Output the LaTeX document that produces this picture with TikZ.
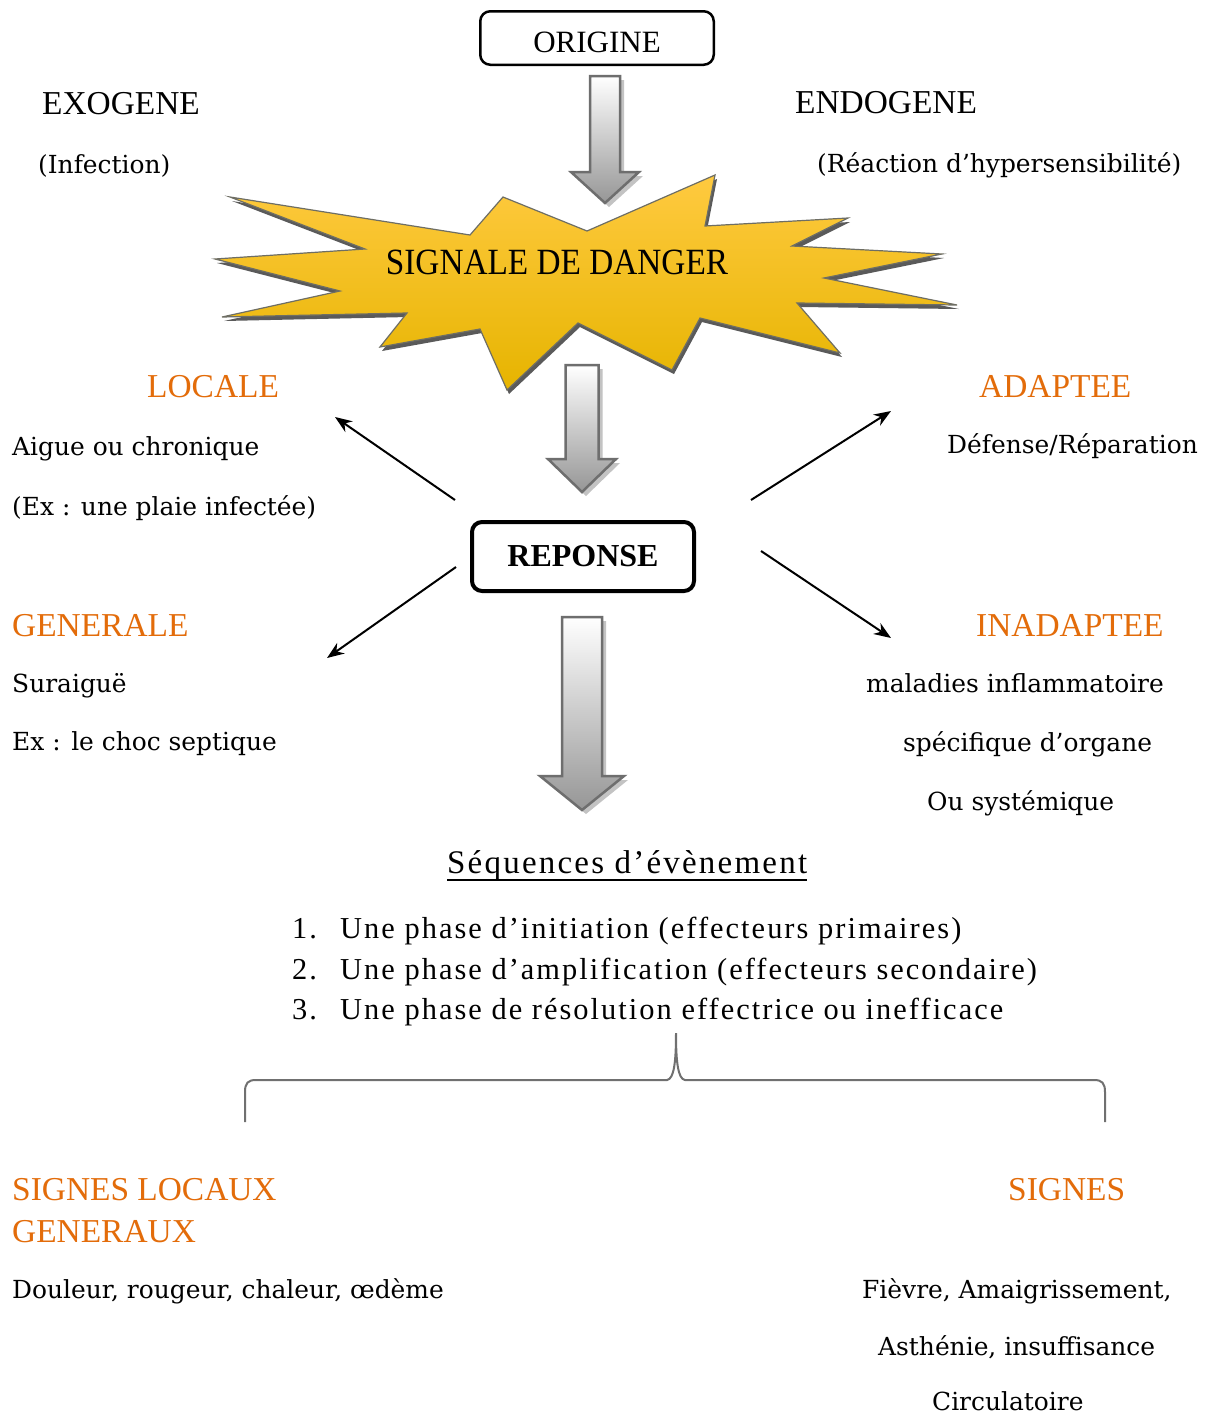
\documentclass[tikz,border=0pt]{standalone}
\usepackage{fontspec}
\setmainfont{Liberation Serif}
\newfontfamily\dvserif{DejaVu Serif}
\newfontfamily\lscond[FakeStretch=0.9]{Liberation Serif}
\newfontfamily\lsspaced[LetterSpace=6.7]{Liberation Serif}
\usetikzlibrary{arrows.meta}
\definecolor{orng}{RGB}{227,108,10}
\definecolor{starA}{RGB}{255,202,64}
\definecolor{starB}{RGB}{255,192,0}
\definecolor{starC}{RGB}{230,180,0}
\definecolor{starline}{RGB}{110,110,100}
\definecolor{starshadow}{RGB}{90,90,90}
\definecolor{arrline}{RGB}{110,110,110}
\definecolor{arrbot}{RGB}{150,150,150}
\definecolor{arrshadow}{RGB}{195,195,195}
\definecolor{bracecol}{RGB}{112,112,112}
\newcommand\blockarr[6]{%
  \fill[arrshadow] ({#1-#5+4},{#2+4}) -- ({#1+#5+4},{#2+4}) -- ({#1+#5+4},{#3+4}) -- ({#1+#6+4},{#3+4}) -- ({#1+4},{#4+4}) -- ({#1-#6+4},{#3+4}) -- ({#1-#5+4},{#3+4}) -- cycle;
  \path[draw=arrline, line width=2.5pt, line join=miter, top color=white, bottom color=arrbot]
    ({#1-#5},{#2}) -- ({#1+#5},{#2}) -- ({#1+#5},{#3}) -- ({#1+#6},{#3}) -- ({#1},{#4}) -- ({#1-#6},{#3}) -- ({#1-#5},{#3}) -- cycle;
}
\begin{document}
\begin{tikzpicture}[x=1pt,y=-1pt,
  hd/.style={font=\fontsize{33.4}{40}\selectfont, anchor=base west, inner sep=0pt},
  ohd/.style={hd, text=orng},
  bd/.style={font=\dvserif\fontsize{24.9}{30}\selectfont, anchor=base west, inner sep=0pt},
  lst/.style={font=\lsspaced\fontsize{30.4}{36}\selectfont, anchor=base west, inner sep=0pt},
  thinarr/.style={-{Stealth[length=17pt,width=13pt]}, line width=2pt},
  titlebox/.style={draw, inner sep=0pt, rounded corners=10pt}]
\useasboundingbox (0,0) rectangle (1207,1414);
\fill[white] (0,0) rectangle (1207,1414);

% ORIGINE
\node[titlebox, line width=2.5pt, minimum width=233.5pt, minimum height=53.5pt,
  font=\fontsize{31}{36}\selectfont] (origine) at (597,38) {\raisebox{-4pt}[\height][\depth]{ORIGINE}};

% arrow 1
\blockarr{605}{76}{172}{203}{15}{34}

\node[hd] (exo) at (42,114) {EXOGENE};
\node[bd] (infection) at (38,173) {(Infection)};
\node[hd] (endo) at (795,113) {ENDOGENE};
\node[bd] (reaction) at (817,172) {(Réaction d’hypersensibilité)};

% starburst
\def\starpath{(230,197) -- (470,235) -- (503,197) -- (587,231) -- (715,175) -- (705,226) -- (848,218) -- (792,246) -- (942,254) -- (824,278) -- (957,305) -- (797,303) -- (840,353) -- (700,318) -- (672,370) -- (578,323) -- (507,390) -- (480,329) -- (380,347) -- (407,313) -- (222,317) -- (340,291) -- (215,259) -- (365,249) -- cycle}
\fill[starshadow, shift={(2,4)}] \starpath;
\path[draw=starline, line width=1.2pt, top color=starA, middle color=starB, bottom color=starC] \starpath;
\node[font=\lscond\fontsize{37}{42}\selectfont, inner sep=0pt] (danger) at (557,262) {SIGNALE DE DANGER};

% arrow 2
\blockarr{582}{365}{459}{492}{16.5}{34}

% REPONSE
\node[titlebox, line width=4pt, minimum width=222pt, minimum height=69pt,
  font=\bfseries\fontsize{32}{38}\selectfont] (reponse) at (583,556.5) {REPONSE};

% arrow 3
\blockarr{582}{617}{776}{810}{20}{42}

% left column
\node[ohd] (locale) at (147,397) {LOCALE};
\node[bd] (aigue) at (12,455) {Aigue ou chronique};
\node[bd] (plaie) at (12,515) {(Ex : une plaie infectée)};
\node[ohd] (generale) at (12,636) {GENERALE};
\node[bd] (suraigue) at (12,692) {Suraiguë};
\node[bd] (choc) at (12,750) {Ex : le choc septique};

% right column
\node[ohd] (adaptee) at (979,397) {ADAPTEE};
\node[bd] (defense) at (947,453) {Défense/Réparation};
\node[ohd] (inadaptee) at (976,636) {INADAPTEE};
\node[bd] (maladies) at (866,692) {maladies inflammatoire};
\node[bd] (specif) at (903,751) {spécifique d’organe};
\node[bd] (systemique) at (927,810) {Ou systémique};

% thin arrows
\coordinate (sUL) at (455,500);
\coordinate (eUL) at (335,417);
\coordinate (sUR) at (751,500);
\coordinate (eUR) at (891,411);
\coordinate (sLL) at (456,567);
\coordinate (eLL) at (327,658);
\coordinate (sLR) at (761,551);
\coordinate (eLR) at (891,638);
\draw[thinarr] (sUL) -- (eUL);
\draw[thinarr] (sUR) -- (eUR);
\draw[thinarr] (sLL) -- (eLL);
\draw[thinarr] (sLR) -- (eLR);

% sequences
\node[font=\lsspaced\fontsize{33}{40}\selectfont, anchor=base west, inner sep=0pt] (seq) at (447,873) {Séquences d’évènement};
\draw[line width=1.6pt] ([yshift=-7pt]seq.base west) -- ([yshift=-7pt]seq.base east);
\node[lst] (n1) at (292,938) {1.};
\node[lst] (l1) at (340,938) {Une phase d’initiation (effecteurs primaires)};
\node[lst] (n2) at (292,979) {2.};
\node[lst] (l2) at (340,979) {Une phase d’amplification (effecteurs secondaire)};
\node[lst] (n3) at (292,1019) {3.};
\node[lst] (l3) at (340,1019) {Une phase de résolution effectrice ou inefficace};

% brace
\draw[bracecol, line width=2pt] (245,1122) -- (245,1092) .. controls (245,1083) and (248,1080) .. (256,1080)
  -- (667,1080) .. controls (674,1079) and (676,1062) .. (676,1033)
  .. controls (676,1062) and (678,1079) .. (685,1080)
  -- (1094,1080) .. controls (1102,1080) and (1105,1083) .. (1105,1092) -- (1105,1122);

% bottom
\node[ohd] (signesloc) at (12,1200) {SIGNES LOCAUX};
\node[ohd] (generaux) at (12,1242) {GENERAUX};
\node[bd] (douleur) at (12,1298) {Douleur, rougeur, chaleur, œdème};
\node[ohd] (signes) at (1008,1200) {SIGNES};
\node[bd] (fievre) at (862,1298) {Fièvre, Amaigrissement,};
\node[bd] (asthenie) at (878,1355) {Asthénie, insuffisance};
\node[bd] (circ) at (932,1410) {Circulatoire};
\end{tikzpicture}
\end{document}
